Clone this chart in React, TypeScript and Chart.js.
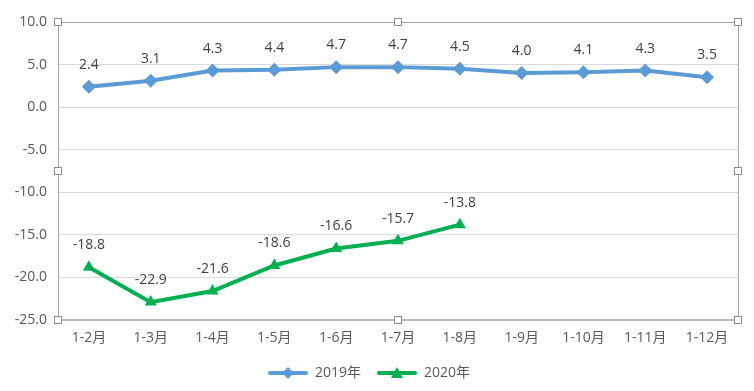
import React, { useEffect, useRef } from "react";
import { Chart, registerables } from "chart.js";

Chart.register(...registerables);

const categories = ["1-2月", "1-3月", "1-4月", "1-5月", "1-6月", "1-7月", "1-8月", "1-9月", "1-10月", "1-11月", "1-12月"];
const series2019 = [2.4, 3.1, 4.3, 4.4, 4.7, 4.7, 4.5, 4.0, 4.1, 4.3, 3.5];
const series2020 = [-18.8, -22.9, -21.6, -18.6, -16.6, -15.7, -13.8, null, null, null, null];
const seriesNames = ["2019年", "2020年"];
const yMin = -25;
const yMax = 10;
const yStep = 5;

const BLUE = "#5B9BD5";
const GREEN = "#00B050";
const FONT = "'Open Sans', 'Noto Sans CJK SC', sans-serif";

function legendImage(color: string, kind: "diamond" | "triangle") {
  const c = document.createElement("canvas");
  c.width = 40;
  c.height = 14;
  const g = c.getContext("2d")!;
  g.strokeStyle = color;
  g.lineWidth = 4;
  g.lineCap = "round";
  g.beginPath();
  g.moveTo(2, 7);
  g.lineTo(38, 7);
  g.stroke();
  g.fillStyle = color;
  g.beginPath();
  if (kind === "diamond") {
    g.moveTo(20, 1);
    g.lineTo(26, 7);
    g.lineTo(20, 13);
    g.lineTo(14, 7);
  } else {
    g.moveTo(20, 1);
    g.lineTo(26, 12);
    g.lineTo(14, 12);
  }
  g.closePath();
  g.fill();
  return c;
}

const labelPlugin = {
  id: "dataLabels",
  afterDatasetsDraw(chart: any) {
    const ctx = chart.ctx;
    ctx.save();
    ctx.font = `14px ${FONT}`;
    ctx.fillStyle = "#404040";
    ctx.textAlign = "center";
    ctx.textBaseline = "middle";
    chart.data.datasets.forEach((ds: any, i: number) => {
      const meta = chart.getDatasetMeta(i);
      meta.data.forEach((pt: any, j: number) => {
        const v = ds.data[j];
        if (v === null || v === undefined) return;
        ctx.fillText(v.toFixed(1), pt.x, pt.y - 22);
      });
    });
    ctx.restore();
  },
};

const framePlugin = {
  id: "frame",
  afterDraw(chart: any) {
    const { left, right, top, bottom } = chart.chartArea;
    const ctx = chart.ctx;
    ctx.save();
    ctx.strokeStyle = "#A6A6A6";
    ctx.lineWidth = 1;
    ctx.beginPath();
    ctx.moveTo(left + 0.5, bottom);
    ctx.lineTo(left + 0.5, top + 0.5);
    ctx.lineTo(right + 0.5, top + 0.5);
    ctx.lineTo(right + 0.5, bottom);
    ctx.stroke();
    ctx.strokeStyle = "#BFBFBF";
    ctx.lineWidth = 2;
    ctx.beginPath();
    ctx.moveTo(left, bottom);
    ctx.lineTo(right + 1, bottom);
    ctx.stroke();
    const midX = Math.round((left + right) / 2);
    const midY = Math.round((top + bottom) / 2);
    const handles = [
      [left, top], [midX, top], [right, top],
      [left, midY], [right, midY],
      [left, bottom], [midX, bottom], [right, bottom],
    ];
    ctx.lineWidth = 1;
    ctx.strokeStyle = "#8C8C8C";
    ctx.fillStyle = "#FFFFFF";
    handles.forEach(([x, y]) => {
      const hx = Math.round(x) - 3.5;
      const hy = Math.round(y) - 3.5;
      ctx.fillRect(hx, hy, 7, 7);
      ctx.strokeRect(hx, hy, 7, 7);
    });
    ctx.restore();
  },
};

export default function App() {
  const ref = useRef<HTMLCanvasElement>(null);
  useEffect(() => {
    document.body.style.margin = "0";
    const img2019 = legendImage(BLUE, "diamond");
    const img2020 = legendImage(GREEN, "triangle");
    const chart = new Chart(ref.current!, {
      type: "line",
      data: {
        labels: categories,
        datasets: [
          {
            label: seriesNames[0],
            data: series2019,
            borderColor: BLUE,
            backgroundColor: BLUE,
            borderWidth: 4,
            pointStyle: "rectRot",
            pointRadius: 7,
            pointBorderWidth: 0,
            pointBackgroundColor: BLUE,
            tension: 0,
          },
          {
            label: seriesNames[1],
            data: series2020,
            borderColor: GREEN,
            backgroundColor: GREEN,
            borderWidth: 4,
            pointStyle: "triangle",
            pointRadius: 7,
            pointBorderWidth: 0,
            pointBackgroundColor: GREEN,
            tension: 0,
            spanGaps: false,
          },
        ],
      },
      options: {
        animation: false,
        responsive: false,
        layout: { padding: { top: 22, right: 16, left: 0, bottom: 1 } },
        plugins: {
          tooltip: { enabled: false },
          legend: {
            position: "bottom",
            labels: {
              usePointStyle: true,
              pointStyleWidth: 40,
              padding: 16,
              color: "#595959",
              font: { family: FONT, size: 14 },
              generateLabels: (chart: any) =>
                chart.data.datasets.map((ds: any, i: number) => ({
                  text: ds.label,
                  pointStyle: i === 0 ? img2019 : img2020,
                  fillStyle: ds.borderColor,
                  strokeStyle: ds.borderColor,
                  lineWidth: 0,
                  fontColor: "#595959",
                  datasetIndex: i,
                  hidden: false,
                })),
            },
          },
        },
        scales: {
          x: {
            offset: true,
            grid: { display: false, drawTicks: false },
            border: { display: false },
            ticks: {
              color: "#595959",
              font: { family: FONT, size: 14 },
              padding: 10,
              maxRotation: 0,
              autoSkip: false,
            },
            afterFit: (s: any) => {
              s.height = 30;
            },
          },
          y: {
            min: yMin,
            max: yMax,
            grid: { color: "#D9D9D9", drawTicks: false, lineWidth: 1 },
            border: { display: false },
            ticks: {
              stepSize: yStep,
              color: "#595959",
              font: { family: FONT, size: 14 },
              padding: 11,
              callback: (v: any) => Number(v).toFixed(1),
            },
            afterFit: (s: any) => {
              s.width = 58;
            },
          },
        },
      },
      plugins: [labelPlugin, framePlugin],
    });
    return () => chart.destroy();
  }, []);
  return <canvas ref={ref} width={754} height={391} style={{ display: "block" }} />;
}
